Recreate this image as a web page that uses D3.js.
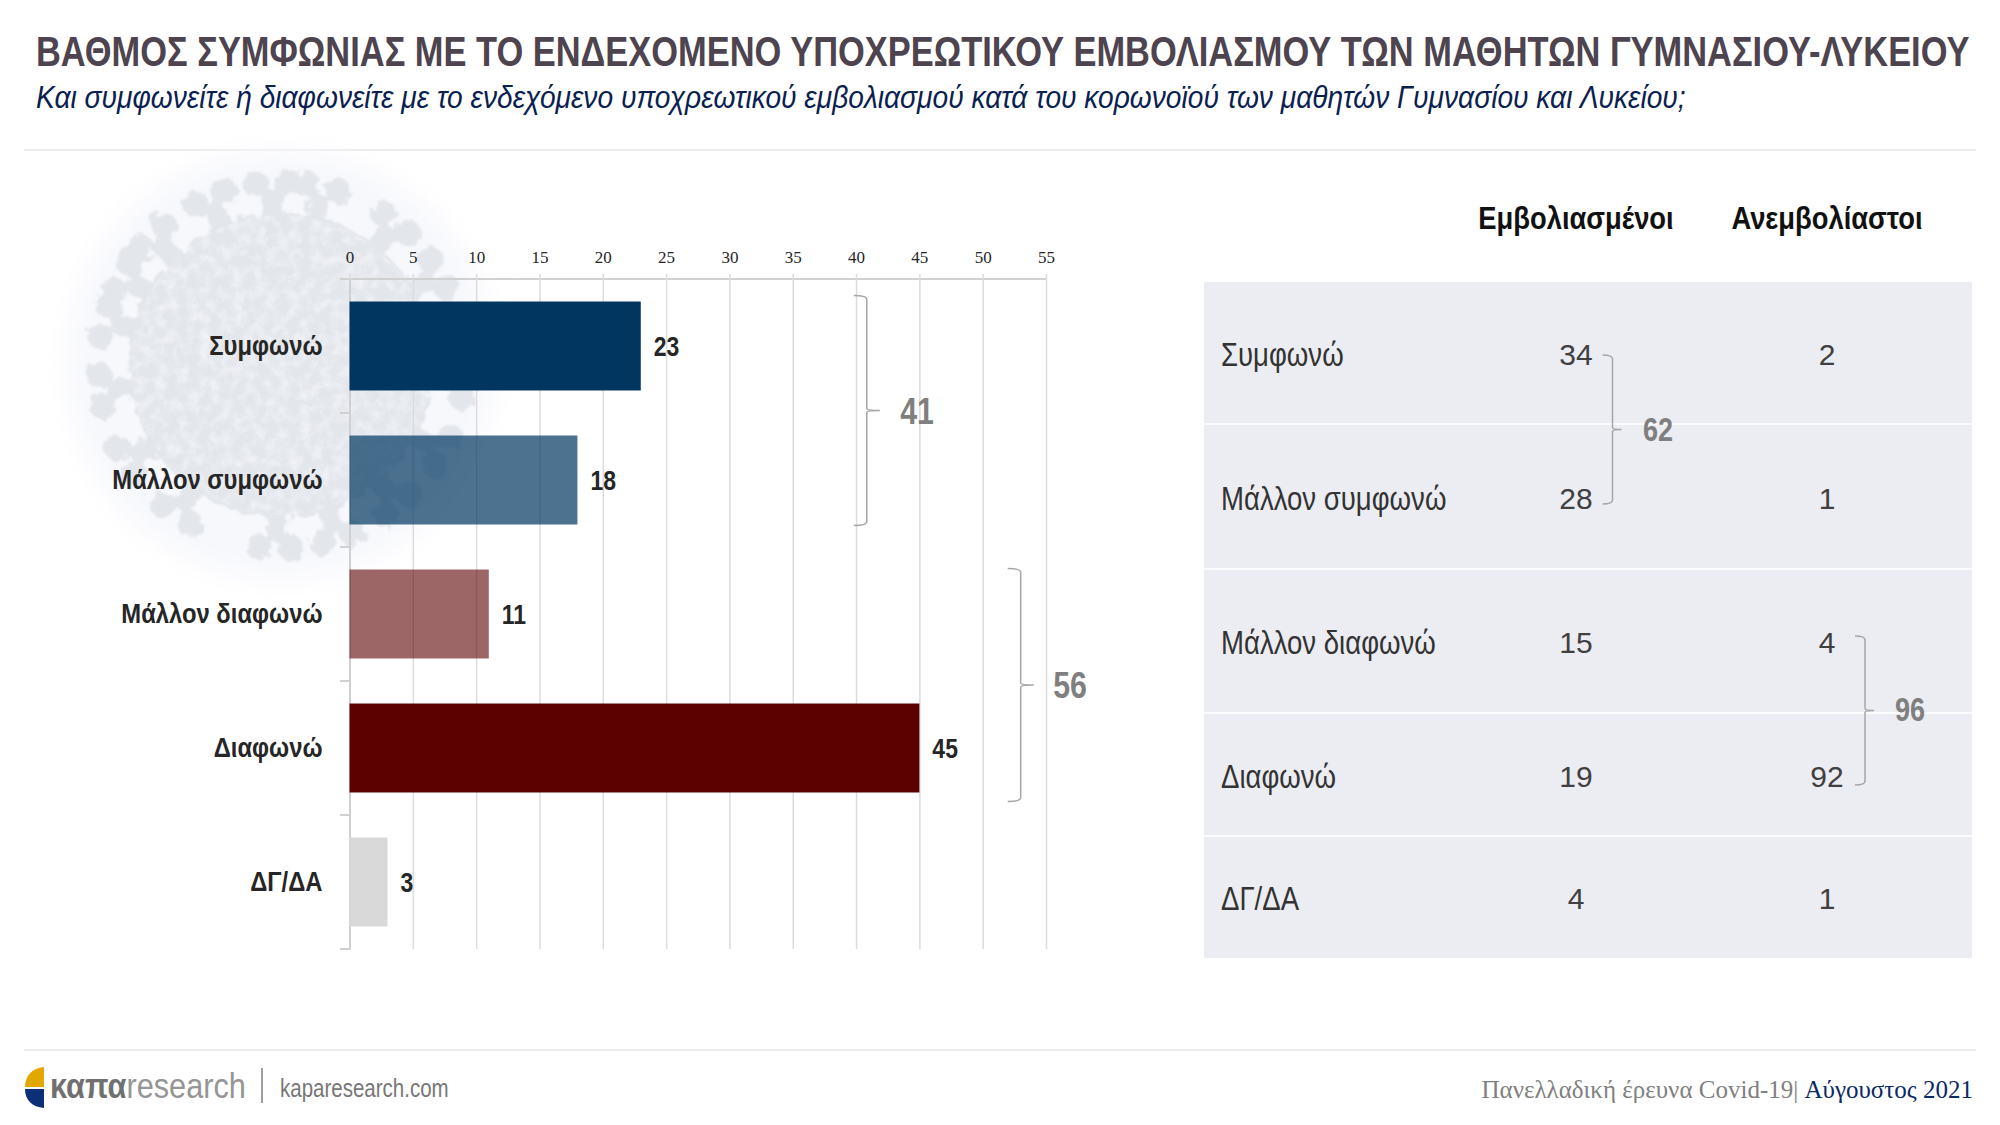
<!DOCTYPE html>
<html>
<head>
<meta charset="utf-8">
<title>Βαθμός συμφωνίας</title>
<script src="https://d3js.org/d3.v7.min.js"></script>
<style>
  html, body { margin: 0; padding: 0; background: #fff; }
  svg { display: block; }
  text { font-family: "Liberation Sans", Arial, sans-serif; }
  .serif { font-family: "Liberation Serif", serif; }
  .grid .tick line { stroke: #dcdcdc; stroke-width: 1.5px; }
  .grid .domain { stroke: #d0d0d0; stroke-width: 2px; }
  .grid .tick text { font-family: "Liberation Serif", serif; font-size: 17px; fill: #262626; }
  .cats .domain { stroke: #d0d0d0; stroke-width: 2px; }
  .cats .tick text { font-weight: bold; font-size: 28px; fill: #262626; }
  .brace { fill: none; stroke: #a6a6a6; stroke-width: 1.5px; }
</style>
</head>
<body>
<svg id="chart" width="2000" height="1125"></svg>
<script>
// data
var categories = ["Συμφωνώ", "Μάλλον συμφωνώ", "Μάλλον διαφωνώ", "Διαφωνώ", "ΔΓ/ΔΑ"];
var totals = [23, 18, 11, 45, 3];
var vaccinated = [34, 28, 15, 19, 4];
var unvaccinated = [2, 1, 4, 92, 1];
var axisTicks = [0, 5, 10, 15, 20, 25, 30, 35, 40, 45, 50, 55];
var chartGroups = [41, 56];
var tableGroups = [62, 96];
var columns = ["Εμβολιασμένοι", "Ανεμβολίαστοι"];

var barFill = ["#003660", "#003660", "#5c0000", "#5c0000", "#d9d9d9"];
var barOpacity = [1, 0.7, 0.6, 1, 1];

var svg = d3.select("#chart");

var x = d3.scaleLinear().domain([0, 55]).range([349.5, 1046]);
var y = d3.scaleBand().domain(categories).range([279, 949]).paddingInner(0.336).paddingOuter(0.168);
var rowEdges = [282, 424, 569, 713, 836, 958];
var rowMid = [354, 498, 642, 776, 898];

// no narrow face is installed, so squeeze the normal one to the wanted share of its width
function condense(sel, k) {
  sel.each(function() {
    var t = d3.select(this);
    t.attr("textLength", this.getComputedTextLength() * k).attr("lengthAdjust", "spacingAndGlyphs");
  });
  return sel;
}
// long lines: scale the text itself so that its box stays inside the page
function fitLine(sel, tx, ty, width) {
  var k = width / sel.node().getComputedTextLength();
  sel.attr("transform", "translate(" + tx + "," + ty + ") scale(" + k + ",1)");
  return sel;
}

// header
fitLine(svg.append("text")
  .attr("font-size", 42).attr("font-weight", "bold").attr("fill", "#4e444f")
  .text("ΒΑΘΜΟΣ ΣΥΜΦΩΝΙΑΣ ΜΕ ΤΟ ΕΝΔΕΧΟΜΕΝΟ ΥΠΟΧΡΕΩΤΙΚΟΥ ΕΜΒΟΛΙΑΣΜΟΥ ΤΩΝ ΜΑΘΗΤΩΝ ΓΥΜΝΑΣΙΟΥ-ΛΥΚΕΙΟΥ"), 36, 66, 1934);
fitLine(svg.append("text")
  .attr("font-size", 32).attr("font-style", "italic").attr("fill", "#0a2150")
  .text("Και συμφωνείτε ή διαφωνείτε με το ενδεχόμενο υποχρεωτικού εμβολιασμού κατά του κορωνοϊού των μαθητών Γυμνασίου και Λυκείου;"), 36, 108, 1651);
svg.selectAll("line.rule").data([150, 1050]).enter().append("line").attr("class", "rule")
  .attr("x1", 24).attr("x2", 1976).attr("y1", function(d) { return d; }).attr("y2", function(d) { return d; })
  .attr("stroke", "#ececec").attr("stroke-width", 2);

// virus in the background
var defs = svg.append("defs");
var bump = defs.append("filter").attr("id", "bump").attr("x", "-20%").attr("y", "-20%").attr("width", "140%").attr("height", "140%");
bump.append("feTurbulence").attr("type", "fractalNoise").attr("baseFrequency", 0.11).attr("numOctaves", 2).attr("seed", 4).attr("result", "n");
bump.append("feDisplacementMap").attr("in", "SourceGraphic").attr("in2", "n").attr("scale", 12);
var speck = defs.append("filter").attr("id", "speck").attr("x", "0").attr("y", "0").attr("width", "100%").attr("height", "100%");
speck.append("feTurbulence").attr("type", "fractalNoise").attr("baseFrequency", 0.09).attr("numOctaves", 4).attr("seed", 9);
speck.append("feColorMatrix").attr("type", "matrix").attr("values", "0 0 0 0 0.96  0 0 0 0 0.97  0 0 0 0 1  1.8 0 0 0 -0.7");
speck.append("feComposite").attr("in2", "SourceAlpha").attr("operator", "in");
defs.append("filter").attr("id", "soft").append("feGaussianBlur").attr("stdDeviation", 14);
defs.append("filter").attr("id", "soft2").append("feGaussianBlur").attr("stdDeviation", 1);

var vx = 281, vy = 365;
function polar(a, r) {
  return [vx + r * Math.cos(a * Math.PI / 180), vy + r * Math.sin(a * Math.PI / 180)];
}
var virus = svg.append("g");
virus.append("circle").attr("cx", vx).attr("cy", vy).attr("r", 214).attr("fill", "#f7f8fc").attr("filter", "url(#soft)");
var spikeAngles = [-166, -151, -135, -113, -93, -77, -51, -30, 5, 28, 50, 72, 92, 125, 148, 172];
var blob = virus.append("g").attr("filter", "url(#soft2)").append("g").attr("filter", "url(#bump)")
  .attr("fill", "#e3e6eb").attr("stroke", "#e3e6eb");
blob.append("circle").attr("cx", vx).attr("cy", vy).attr("r", 152);
blob.selectAll("line").data(spikeAngles).enter().append("line")
  .attr("x1", vx).attr("y1", vy)
  .attr("x2", function(d) { return polar(d, 176)[0]; })
  .attr("y2", function(d) { return polar(d, 176)[1]; })
  .attr("stroke-width", 20);
[-5, 5].forEach(function(off, n) {
  blob.selectAll("circle.head" + n).data(spikeAngles).enter().append("circle").attr("class", "head" + n)
    .attr("cx", function(d) { return polar(d + off, 183)[0]; })
    .attr("cy", function(d) { return polar(d + off, 183)[1]; })
    .attr("r", 13).attr("stroke", "none");
});
virus.append("circle").attr("cx", vx).attr("cy", vy).attr("r", 150).attr("fill", "#fff").attr("filter", "url(#speck)").attr("opacity", 0.7);

// top axis, its ticks run down as the grid
var grid = svg.append("g").attr("class", "grid").attr("transform", "translate(0,279)")
  .call(d3.axisTop(x).tickValues(axisTicks).tickSizeOuter(0).tickSizeInner(5).tickPadding(11));
grid.selectAll(".tick line").attr("y2", 670).attr("y1", -5);
grid.select(".domain").attr("d", "M340,0H" + x(55));

// category axis, under the bars
var cats = svg.append("g").attr("class", "cats").attr("transform", "translate(" + x(0) + ",0)")
  .call(d3.axisLeft(y).tickSize(0).tickPadding(27));
condense(cats.selectAll(".tick text"), 0.85);
var step = y.step();
var gapHalf = (step - y.bandwidth()) / 2;
svg.selectAll("line.stub").data(categories).enter().append("line").attr("class", "stub")
  .attr("x1", 340).attr("x2", x(0))
  .attr("y1", function(d) { return y(d) - gapHalf + step; })
  .attr("y2", function(d) { return y(d) - gapHalf + step; })
  .attr("stroke", "#d0d0d0").attr("stroke-width", 2);

// bars
svg.selectAll("rect.bar").data(categories).enter().append("rect").attr("class", "bar")
  .attr("x", x(0))
  .attr("y", function(d) { return y(d); })
  .attr("width", function(d, i) { return x(totals[i]) - x(0); })
  .attr("height", y.bandwidth())
  .attr("fill", function(d, i) { return barFill[i]; })
  .attr("fill-opacity", function(d, i) { return barOpacity[i]; });

// value labels
condense(svg.selectAll("text.val").data(categories).enter().append("text").attr("class", "val")
  .attr("x", function(d, i) { return x(totals[i]) + 13; })
  .attr("y", function(d) { return y(d) + y.bandwidth() / 2; })
  .attr("dy", "0.35em")
  .attr("font-size", 28).attr("font-weight", "bold").attr("fill", "#262626")
  .text(function(d, i) { return totals[i]; }), 0.82);

// curly bracket: hooks on the left, nose on the right
function brace(bx, top, bottom, hook, nose) {
  var mid = (top + bottom) / 2;
  return "M" + (bx - hook) + "," + top + "Q" + bx + "," + top + " " + bx + "," + (top + 4) +
    "V" + (mid - 2) + "Q" + bx + "," + mid + " " + (bx + nose) + "," + mid +
    "Q" + bx + "," + mid + " " + bx + "," + (mid + 2) +
    "V" + (bottom - 4) + "Q" + bx + "," + bottom + " " + (bx - hook) + "," + bottom;
}
function groupLabel(lx, ly, size, value) {
  condense(svg.append("text").attr("x", lx).attr("y", ly).attr("dy", "0.35em")
    .attr("text-anchor", "middle").attr("font-size", size).attr("font-weight", "bold").attr("fill", "#7f7f7f")
    .text(value), 0.82);
}

var b1top = y(categories[0]) - 6, b1bot = y(categories[1]) + y.bandwidth() + 1;
var b2top = y(categories[2]) - 1, b2bot = y(categories[3]) + y.bandwidth() + 9;
svg.append("path").attr("class", "brace").attr("d", brace(x(40.85), b1top, b1bot, 13, 13));
svg.append("path").attr("class", "brace").attr("d", brace(x(53), b2top, b2bot, 13, 13));
groupLabel(917, (b1top + b1bot) / 2 + 1, 37, chartGroups[0]);
groupLabel(1070, (b2top + b2bot) / 2, 37, chartGroups[1]);

// table on the right
var colX = d3.scalePoint().domain(columns).range([1576, 1827]);
condense(svg.selectAll("text.colhead").data(columns).enter().append("text").attr("class", "colhead")
  .attr("x", function(d) { return colX(d); }).attr("y", 218).attr("dy", "0.35em")
  .attr("text-anchor", "middle").attr("font-size", 32).attr("font-weight", "bold").attr("fill", "#111")
  .text(function(d) { return d; }), 0.855);

svg.append("rect").attr("x", 1204).attr("y", rowEdges[0]).attr("width", 768).attr("height", rowEdges[5] - rowEdges[0]).attr("fill", "#ecedf2");
svg.selectAll("line.rowline").data(rowEdges.slice(1, 5)).enter().append("line").attr("class", "rowline")
  .attr("x1", 1204).attr("x2", 1972)
  .attr("y1", function(d) { return d; }).attr("y2", function(d) { return d; })
  .attr("stroke", "#fff").attr("stroke-width", 1.5);

condense(svg.selectAll("text.rowlabel").data(categories).enter().append("text").attr("class", "rowlabel")
  .attr("x", 1221).attr("y", function(d, i) { return rowMid[i]; }).attr("dy", "0.35em")
  .attr("font-size", 33).attr("fill", "#333")
  .text(function(d) { return d; }), 0.835);
[vaccinated, unvaccinated].forEach(function(series, c) {
  svg.selectAll("text.num" + c).data(series).enter().append("text").attr("class", "num" + c)
    .attr("x", colX(columns[c])).attr("y", function(d, i) { return rowMid[i]; }).attr("dy", "0.35em")
    .attr("text-anchor", "middle").attr("font-size", 30).attr("fill", "#404040")
    .text(function(d) { return d; });
});
svg.append("path").attr("class", "brace").attr("d", brace(1612.5, rowMid[0] + 1, rowMid[1] + 6, 10, 9));
svg.append("path").attr("class", "brace").attr("d", brace(1865, rowMid[2] - 6, rowMid[3] + 9, 10, 9));
groupLabel(1658, 429, 33, tableGroups[0]);
groupLabel(1910, 709, 33, tableGroups[1]);

// footer
svg.append("path").attr("fill", "#e2a800").attr("d", "M44,1067C32,1068 25,1076 25,1087L44,1087Z");
svg.append("path").attr("fill", "#0c2f78").attr("d", "M25,1089L44,1089L44,1108C32,1107 25,1100 25,1089Z");
var logo = svg.append("text").attr("font-size", 36);
logo.append("tspan").attr("font-weight", "bold").attr("fill", "#707070").text("καπα");
logo.append("tspan").attr("fill", "#959595").text("research");
fitLine(logo, 50, 1098, 196);
svg.append("line").attr("x1", 262).attr("x2", 262).attr("y1", 1068).attr("y2", 1103).attr("stroke", "#808080").attr("stroke-width", 1.5);
condense(svg.append("text").attr("x", 280).attr("y", 1097).attr("font-size", 25).attr("fill", "#777")
  .text("kaparesearch.com"), 0.82);
var foot = svg.append("text").attr("class", "serif").attr("x", 1973).attr("y", 1098).attr("text-anchor", "end").attr("font-size", 25);
foot.append("tspan").attr("fill", "#808080").text("Πανελλαδική έρευνα Covid-19");
foot.append("tspan").attr("fill", "#808080").text("| ");
foot.append("tspan").attr("fill", "#0a2a66").text("Αύγουστος 2021");
</script>
</body>
</html>
